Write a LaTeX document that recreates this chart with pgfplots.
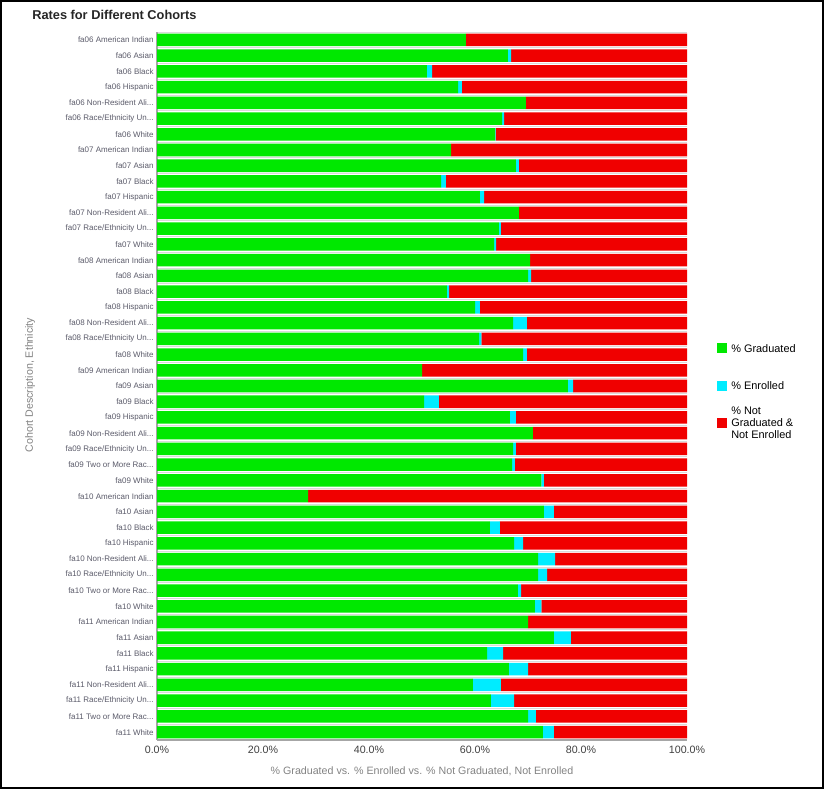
\documentclass[border=0pt]{standalone}
\usepackage{pgfplots}
\pgfplotsset{compat=1.18}
\usepackage{pgfplotstable}
\usepackage{fontspec}
\setmainfont{Liberation Sans}

\definecolor{cgrad}{RGB}{0,232,0}
\definecolor{cenr}{RGB}{0,236,255}
\definecolor{cnot}{RGB}{240,0,0}
\definecolor{tickgray}{RGB}{90,90,105}
\definecolor{labgray}{RGB}{130,130,130}
\definecolor{gridgray}{RGB}{218,218,218}
\newcommand{\trunc}{.{}.{}.}

% idx, % graduated, % enrolled, % not graduated & not enrolled
\pgfplotstableread{
idx G E N
0 58.3 0.0 41.7
1 66.2 0.6 33.2
2 50.9 1.0 48.1
3 56.8 0.7 42.5
4 69.6 0.0 30.4
5 65.1 0.4 34.5
6 63.8 0.1 36.1
7 55.5 0.0 44.5
8 67.7 0.6 31.7
9 53.6 0.9 45.5
10 60.9 0.8 38.3
11 68.3 0.0 31.7
12 64.5 0.4 35.1
13 63.6 0.4 36.0
14 70.4 0.0 29.6
15 70.0 0.6 29.4
16 54.7 0.4 44.9
17 60.0 0.9 39.1
18 67.2 2.6 30.2
19 60.8 0.4 38.8
20 69.1 0.7 30.2
21 50.0 0.0 50.0
22 77.5 1.0 21.5
23 50.4 2.8 46.8
24 66.6 1.1 32.3
25 70.9 0.0 29.1
26 67.2 0.5 32.3
27 67.0 0.5 32.5
28 72.5 0.5 27.0
29 28.5 0.0 71.5
30 73.0 1.9 25.1
31 62.8 1.9 35.3
32 67.4 1.7 30.9
33 71.9 3.2 24.9
34 71.9 1.7 26.4
35 68.1 0.6 31.3
36 71.3 1.2 27.5
37 70.0 0.0 30.0
38 74.9 3.2 21.9
39 62.3 3.0 34.7
40 66.4 3.6 30.0
41 59.6 5.3 35.1
42 63.0 4.4 32.6
43 70.0 1.5 28.5
44 72.8 2.1 25.1
}\cohorts

\begin{document}
\begin{tikzpicture}
\path[use as bounding box] (-117.75pt,-36.75pt) rectangle (500.25pt,555pt);
\draw[black, line width=1.5pt] (-117pt,-36pt) rectangle (499.5pt,554.25pt);

\begin{axis}[
    at={(0,0)}, anchor=south west,
    scale only axis,
    width=397.5pt, height=531pt,
    xbar stacked,
    bar width=9.4pt,
    y dir=reverse,
    xmin=0, xmax=100,
    ymin=-0.5, ymax=44.5,
    enlargelimits=false,
    axis x line*=bottom,
    axis y line*=left,
    axis line style={draw=gray!70, line width=0.8pt},
    xtick={0,20,40,60,80,100},
    xticklabels={0.0\%,20.0\%,40.0\%,60.0\%,80.0\%,100.0\%},
    xticklabel style={font=\fontsize{8}{9}\selectfont, text=black!75, yshift=-1pt},
    ytick={0,1,2,3,4,5,6,7,8,9,10,11,12,13,14,15,16,17,18,19,20,21,22,23,24,25,26,27,28,29,30,31,32,33,34,35,36,37,38,39,40,41,42,43,44},
    minor ytick={-0.5,0.5,1.5,2.5,3.5,4.5,5.5,6.5,7.5,8.5,9.5,10.5,11.5,12.5,13.5,14.5,15.5,16.5,17.5,18.5,19.5,20.5,21.5,22.5,23.5,24.5,25.5,26.5,27.5,28.5,29.5,30.5,31.5,32.5,33.5,34.5,35.5,36.5,37.5,38.5,39.5,40.5,41.5,42.5,43.5},
    yminorgrids=true,
    minor grid style={gridgray, line width=0.6pt},
    major tick length=0pt,
    minor tick length=0pt,
    yticklabel style={font=\fontsize{6}{7}\selectfont, text=tickgray, xshift=1pt},
    yticklabels={
      fa06 American Indian, fa06 Asian, fa06 Black, fa06 Hispanic,
      fa06 Non-Resident Ali\trunc, fa06 Race/Ethnicity Un\trunc, fa06 White,
      fa07 American Indian, fa07 Asian, fa07 Black, fa07 Hispanic,
      fa07 Non-Resident Ali\trunc, fa07 Race/Ethnicity Un\trunc, fa07 White,
      fa08 American Indian, fa08 Asian, fa08 Black, fa08 Hispanic,
      fa08 Non-Resident Ali\trunc, fa08 Race/Ethnicity Un\trunc, fa08 White,
      fa09 American Indian, fa09 Asian, fa09 Black, fa09 Hispanic,
      fa09 Non-Resident Ali\trunc, fa09 Race/Ethnicity Un\trunc, fa09 Two or More Rac\trunc, fa09 White,
      fa10 American Indian, fa10 Asian, fa10 Black, fa10 Hispanic,
      fa10 Non-Resident Ali\trunc, fa10 Race/Ethnicity Un\trunc, fa10 Two or More Rac\trunc, fa10 White,
      fa11 American Indian, fa11 Asian, fa11 Black, fa11 Hispanic,
      fa11 Non-Resident Ali\trunc, fa11 Race/Ethnicity Un\trunc, fa11 Two or More Rac\trunc, fa11 White},
]
\addplot[fill=cgrad, draw=none] table[x=G, y=idx] {\cohorts};
\addplot[fill=cenr, draw=none] table[x=E, y=idx] {\cohorts};
\addplot[fill=cnot, draw=none] table[x=N, y=idx] {\cohorts};
\end{axis}

% title and axis titles
\node[anchor=west, inner sep=0pt, font=\bfseries\fontsize{9.6}{11}\selectfont, text=black!85] at (-93.75pt,543.75pt) {Rates for Different Cohorts};
\node[font=\fontsize{8}{9}\selectfont, text=labgray] at (198.75pt,-23.25pt) {\% Graduated vs. \% Enrolled vs. \% Not Graduated, Not Enrolled};
\node[font=\fontsize{8}{9}\selectfont, text=labgray, rotate=90] at (-95.25pt,266.25pt) {Cohort Description, Ethnicity};

% legend
\fill[cgrad] (420pt,289.9pt) rectangle (427.5pt,297.4pt);
\node[anchor=west, font=\fontsize{8.2}{9}\selectfont, inner sep=0pt] at (430.5pt,293.6pt) {\% Graduated};
\fill[cenr] (420pt,261.75pt) rectangle (427.5pt,269.25pt);
\node[anchor=west, font=\fontsize{8.2}{9}\selectfont, inner sep=0pt] at (430.5pt,265.5pt) {\% Enrolled};
\fill[cnot] (420pt,234pt) rectangle (427.5pt,241.5pt);
\node[anchor=west, align=left, font=\fontsize{8.2}{9}\selectfont, inner sep=0pt] at (430.5pt,238pt) {\% Not\\Graduated \&\\Not Enrolled};
\end{tikzpicture}
\end{document}
